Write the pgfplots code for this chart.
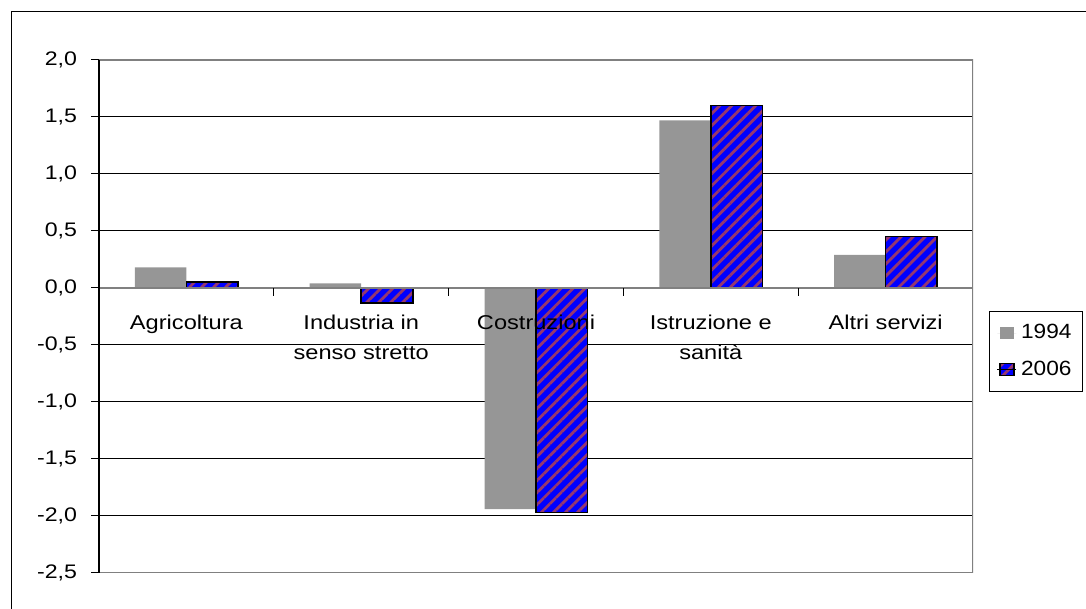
\documentclass[border=0pt]{standalone}
\usepackage{fontspec}
\setmainfont{Liberation Sans}[FakeStretch=1.18]
\newfontfamily\lgndfont{Liberation Sans}[FakeStretch=1.1]
\usepackage{pgfplots}
\pgfplotsset{compat=1.18}
\usetikzlibrary{patterns.meta}

\definecolor{barGray}{RGB}{150,150,150}
\definecolor{barBlue}{RGB}{0,0,255}
\definecolor{stripe}{RGB}{150,55,110}
\definecolor{frameGray}{RGB}{128,128,128}

\begin{document}
\begin{tikzpicture}
\useasboundingbox (0,0) rectangle (543pt,-304.5pt);
% outer chart frame (left and top edges)
\draw[black, line width=0.6pt] (5.6pt,-310pt) -- (5.6pt,-5.6pt) -- (550pt,-5.6pt);
\begin{axis}[
  axis on top,
  at={(49.5pt,-30pt)}, anchor=north west,
  scale only axis, width=437pt, height=256.5pt,
  xmin=-0.5, xmax=4.5, ymin=-2.5, ymax=2,
  axis x line*=middle, axis y line*=left,
  x axis line style={frameGray, line width=0.9pt},
  y axis line style={black, line width=0.6pt},
  ytick={-2.5,-2,-1.5,-1,-0.5,0,0.5,1,1.5,2},
  yticklabels={{-2,5},{-2,0},{-1,5},{-1,0},{-0,5},{0,0},{0,5},{1,0},{1,5},{2,0}},
  yticklabel style={font=\rmfamily\fontsize{9.8}{12}\selectfont, xshift=-3.5pt},
  tick align=outside, major tick length=4pt,
  ytick style={black, line width=0.5pt},
  xtick={0,1,2,3,4},
  xticklabels={Agricoltura, Industria in\\senso stretto, Costruzioni, Istruzione e\\sanità, Altri servizi},
  xticklabel style={align=center, font=\fontsize{10}{15}\selectfont, yshift=-6pt},
  xtick style={draw=none},
  extra x ticks={0.5,1.5,2.5,3.5},
  extra x tick labels={},
  extra x tick style={xtick style={draw=black, line width=0.5pt}, major tick length=4pt},
  legend style={at={(1.0183,0.5107)}, anchor=north west, draw=black, line width=0.5pt,
    font=\lgndfont\fontsize{10.3}{12}\selectfont, row sep=5.5pt, inner xsep=3.5pt, inner ysep=4.5pt,
    cells={anchor=west}},
  legend image code/.code={\path[#1] (1.5pt,-3pt) rectangle (8.5pt,3pt); \path (0pt,0pt) -- (9.5pt,0pt);},
]
% horizontal grid lines, behind the bars
\pgfplotsinvokeforeach{-2,-1.5,-1,-0.5,0.5,1,1.5}{
  \addplot[black, line width=0.5pt, forget plot] coordinates {(-0.5,#1) (4.5,#1)};
}
\addplot[ybar, bar width=25.75pt, bar shift=-12.875pt, fill=barGray, draw=none]
  coordinates {(0,0.18) (1,0.04) (2,-1.94) (3,1.47) (4,0.29)};
\addplot[ybar, bar width=25.75pt, bar shift=12.875pt, fill=barBlue, draw=black, line width=0.8pt,
  postaction={pattern={Lines[angle=45,distance=4.25pt,line width=1.4pt]}, pattern color=stripe}]
  coordinates {(0,0.05) (1,-0.13) (2,-1.97) (3,1.60) (4,0.45)};
\legend{1994,2006}
% plot area border
\draw[frameGray, line width=0.9pt] (rel axis cs:0,1) -- (rel axis cs:1,1) -- (rel axis cs:1,0) -- (rel axis cs:0,0);
\end{axis}
\end{tikzpicture}
\end{document}
